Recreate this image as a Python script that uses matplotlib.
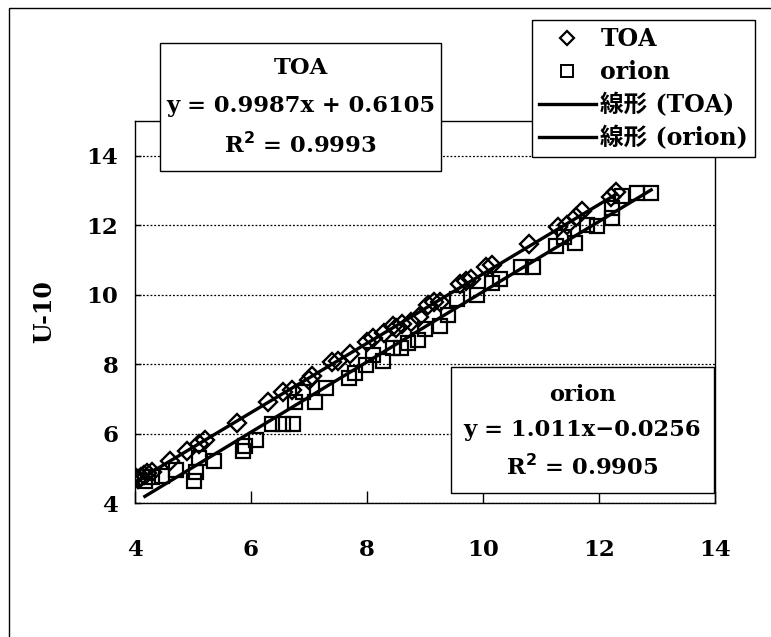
import numpy as np
import matplotlib
matplotlib.use('Agg')
import matplotlib.pyplot as plt
from matplotlib.patches import Rectangle
from matplotlib.lines import Line2D

# TOA points (diamonds)
toa_x = [4.0, 4.05, 4.1, 4.15, 4.2, 4.3, 4.6, 4.9, 5.1, 5.2, 5.75, 6.3, 6.55, 6.7,
         7.0, 7.05, 7.4, 7.5, 7.7, 8.0, 8.1, 8.3, 8.45, 8.5, 8.6, 8.75, 8.9,
         9.05, 9.15, 9.25, 9.6, 9.7, 9.8, 10.05, 10.15, 10.8, 11.3, 11.45,
         11.6, 11.7, 12.2, 12.3]
toa_y = [4.75, 4.7, 4.75, 4.8, 4.85, 4.9, 5.2, 5.5, 5.7, 5.8, 6.3, 6.9, 7.2, 7.25,
         7.55, 7.65, 8.05, 8.1, 8.3, 8.65, 8.75, 8.9, 9.1, 9.05, 9.15, 9.2, 9.35,
         9.7, 9.8, 9.8, 10.3, 10.4, 10.45, 10.8, 10.85, 11.45, 11.95, 12.0,
         12.25, 12.4, 12.8, 12.95]

# orion points (squares)
orion_x = [4.17, 4.3, 4.47, 4.7, 5.02, 5.05, 5.1, 5.36, 5.87, 5.9, 6.08, 6.37,
           6.55, 6.72, 6.76, 6.9, 7.1, 7.3, 7.69, 7.8, 7.99, 8.1, 8.28, 8.45,
           8.58, 8.7, 8.88, 9.0, 9.26, 9.4, 9.56, 9.9, 10.15, 10.3, 10.66,
           10.86, 11.25, 11.4, 11.59, 11.8, 11.97, 12.22, 12.22, 12.4, 12.65, 12.9]
orion_y = [4.62, 4.75, 4.79, 4.95, 4.62, 4.9, 5.3, 5.2, 5.5, 5.65, 5.8, 6.27,
           6.27, 6.27, 6.92, 7.2, 6.92, 7.3, 7.6, 7.75, 7.97, 8.25, 8.09, 8.45,
           8.45, 8.6, 8.7, 9.0, 9.1, 9.4, 9.86, 10.0, 10.33, 10.45, 10.8,
           10.8, 11.4, 11.65, 11.5, 12.0, 11.98, 12.2, 12.5, 12.85, 12.93, 12.93]

toa_fit = [0.9987, 0.6105]
orion_fit = [1.011, -0.0256]

x_ticks = [4, 6, 8, 10, 12, 14]
y_ticks = [4, 6, 8, 10, 12, 14]

W, H = 771, 637
serif = ['DejaVu Serif', 'Noto Sans CJK JP']
plt.rcParams['font.family'] = serif
plt.rcParams['font.weight'] = 'bold'


def fx(px):
    return px / W


def fy(py):
    return 1 - py / H


fig = plt.figure(figsize=(W / 100, H / 100), dpi=100)
fig.patches.append(Rectangle((fx(9), -0.1), 1.2, fy(8) + 0.1, transform=fig.transFigure,
                             fill=False, edgecolor='black', lw=1))

ax = fig.add_axes([fx(135), fy(503), fx(715) - fx(135), fy(121) - fy(503)])
ax.set_xlim(4, 14)
ax.set_ylim(4, 15)
ax.set_xticks(x_ticks)
ax.set_yticks(y_ticks)
ax.tick_params(axis='x', direction='in', length=9, width=1, pad=26, labelsize=16.5)
ax.tick_params(axis='y', direction='in', length=4, width=1, pad=12, labelsize=16.5)
for s in ax.spines.values():
    s.set_linewidth(1)
ax.grid(axis='y', color='black', linestyle=(0, (1.5, 1.5)), linewidth=0.9)
ax.set_axisbelow(True)
ax.set_ylabel('U-10', fontsize=17, fontweight='bold', labelpad=22)

ax.plot(toa_x, toa_y, 'D', ms=9, mfc='none', mec='black', mew=1.7, zorder=3)
ax.plot(orion_x, orion_y, 's', ms=10, mfc='none', mec='black', mew=1.6, zorder=3)

xt = np.array([min(toa_x), max(toa_x)])
ax.plot(xt, np.polyval(toa_fit, xt), color='black', lw=2.4, zorder=4)
xo = np.array([min(orion_x), max(orion_x)])
ax.plot(xo, np.polyval(orion_fit, xo), color='black', lw=2.4, zorder=4)

# equation boxes
def eq_box(x0, y0, x1, y1, lines, ys):
    fig.patches.append(Rectangle((fx(x0), fy(y1)), fx(x1) - fx(x0), fy(y0) - fy(y1),
                                 transform=fig.transFigure, facecolor='white',
                                 edgecolor='black', lw=1, zorder=5))
    cx = fx((x0 + x1) / 2)
    for t, yy in zip(lines, ys):
        fig.text(cx, fy(yy), t, ha='center', va='center', fontsize=16.3, zorder=6)


eq_box(160, 43, 441, 171,
       ['TOA', 'y = %.4fx + %.4f' % (toa_fit[0], toa_fit[1]), r'R$^{\mathbf{2}}$ = 0.9993'],
       [68, 106, 145])
eq_box(451, 367, 714, 493,
       ['orion', 'y = %.3fx\u2212%.4f' % (orion_fit[0], -orion_fit[1]), r'R$^{\mathbf{2}}$ = 0.9905'],
       [395, 430, 467])

handles = [
    Line2D([], [], marker='D', ls='none', mfc='none', mec='black', ms=7, mew=1.6),
    Line2D([], [], marker='s', ls='none', mfc='none', mec='black', ms=8, mew=1.4),
    Line2D([], [], color='black', lw=2.4),
    Line2D([], [], color='black', lw=2.4),
]
labels = ['TOA', 'orion', '線形 (TOA)', '線形 (orion)']
leg = fig.legend(handles, labels, loc='upper left', bbox_to_anchor=(fx(532), fy(20)),
                 frameon=True, fancybox=False, framealpha=1, edgecolor='black',
                 prop={'family': serif, 'size': 17, 'weight': 'bold'},
                 handlelength=2.4, handletextpad=0.2, labelspacing=0.38,
                 borderpad=0.3, borderaxespad=0)
leg.get_frame().set_linewidth(1)
leg.set_zorder(7)

fig.savefig('out.png', dpi=100)
